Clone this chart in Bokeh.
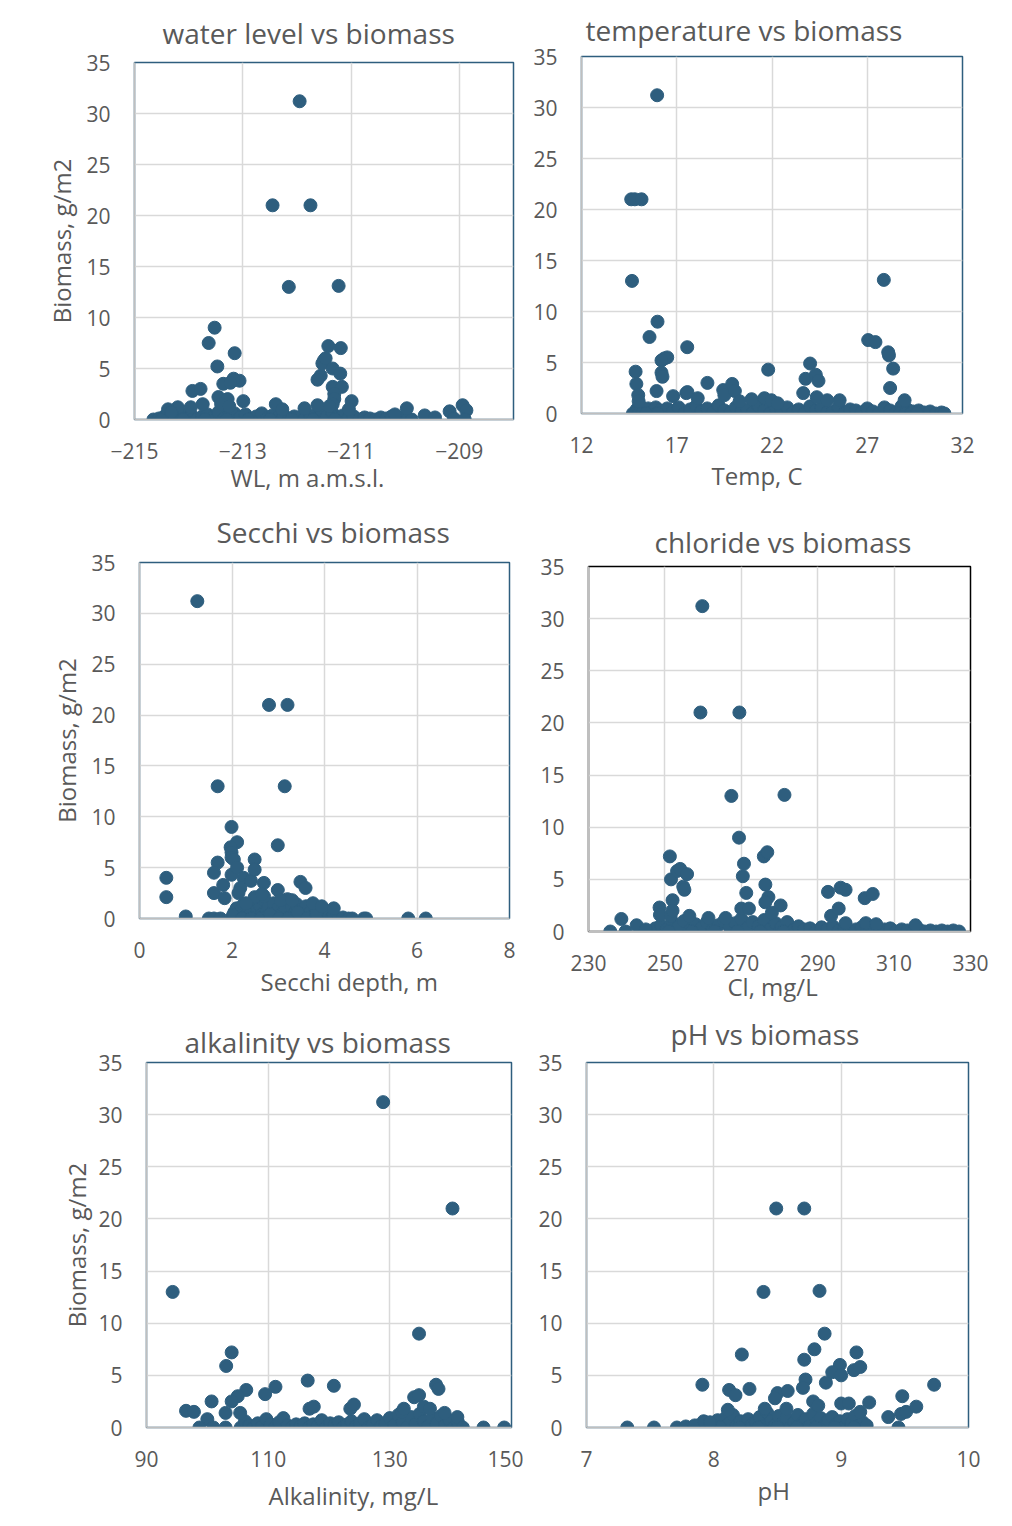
from bokeh.plotting import figure
from bokeh.layouts import column, row
from bokeh.models import Range1d, FixedTicker, Title, Spacer
from bokeh.embed import file_html
from bokeh.resources import INLINE

FONT = "Open Sans"
TEXT = "#595959"
DOT = "#2E5E7E"
GRID = "#D9D9D9"
AXIS = "#BFBFBF"

biomass_ticks = [0, 5, 10, 15, 20, 25, 30, 35]

# ---------------- data ----------------
wl_ticks = [-215, -213, -211, -209]
wl_points = [
    (-211.95, 31.2), (-212.45, 21.0), (-211.75, 21.0), (-212.15, 13.0), (-211.23, 13.1),
    (-213.52, 9.0), (-213.63, 7.5), (-213.15, 6.5), (-213.47, 5.2),
    (-211.42, 7.2), (-211.19, 7.0), (-211.50, 5.8), (-211.53, 5.5), (-211.47, 6.0),
    (-211.34, 5.0), (-211.20, 4.5), (-211.56, 4.3), (-211.62, 3.9),
    (-211.34, 3.2), (-211.17, 3.2), (-211.31, 2.5), (-211.31, 2.0), (-211.34, 1.5), (-211.40, 1.3),
    (-213.06, 3.8), (-213.17, 4.0), (-213.36, 3.5), (-213.23, 3.6),
    (-213.93, 2.8), (-213.78, 3.0),
    (-213.45, 2.2), (-213.28, 2.0), (-213.40, 1.5), (-213.25, 1.3),
    (-212.99, 1.8), (-213.74, 1.5),
    (-213.96, 1.2), (-214.20, 1.2), (-214.38, 1.0), (-214.32, 0.7),
    (-212.39, 1.5), (-212.27, 1.0), (-211.86, 1.1), (-211.62, 1.4),
    (-210.99, 1.8), (-211.04, 1.0),
    (-210.19, 0.5), (-209.97, 1.1), (-209.64, 0.4), (-209.45, 0.2),
    (-209.18, 0.8), (-209.10, 0.1), (-208.94, 1.4), (-208.87, 0.9), (-208.90, 0.0),
]
wl_base = [
    (-214.65, 0.0), (-214.55, 0.1), (-214.45, 0.3), (-214.35, 0.5), (-214.25, 0.2), (-214.15, 0.6),
    (-214.05, 0.1), (-213.95, 0.4), (-213.85, 0.0), (-213.75, 0.3), (-213.65, 0.5), (-213.55, 0.2),
    (-213.45, 0.7), (-213.35, 0.1), (-213.25, 0.4), (-213.15, 0.6), (-213.05, 0.2), (-212.95, 0.5),
    (-212.85, 0.0), (-212.75, 0.3), (-212.65, 0.6), (-212.55, 0.1), (-212.45, 0.4), (-212.35, 0.2),
    (-212.25, 0.5), (-212.15, 0.0), (-212.05, 0.3), (-211.95, 0.2), (-211.85, 0.1), (-211.75, 0.4),
    (-211.65, 0.0), (-211.55, 0.5), (-211.45, 0.3), (-211.35, 0.7), (-211.25, 0.2), (-211.15, 0.4),
    (-211.05, 0.1), (-210.95, 0.3), (-210.85, 0.0), (-210.75, 0.2), (-210.65, 0.1), (-210.55, 0.0),
    (-210.45, 0.2), (-210.35, 0.1), (-210.25, 0.3), (-210.15, 0.0), (-210.05, 0.2), (-209.95, 0.1),
    (-209.88, 0.0), (-214.50, 0.0), (-214.10, 0.0), (-213.70, 0.0), (-213.30, 0.0), (-212.90, 0.0),
    (-212.50, 0.0), (-212.10, 0.0), (-211.70, 0.0), (-211.30, 0.0),
]

temp_ticks = [12, 17, 22, 27, 32]
temp_points = [
    (15.97, 31.2), (14.61, 21.0), (14.80, 21.0), (15.15, 21.0), (14.65, 13.0), (27.87, 13.1),
    (15.99, 9.0), (15.57, 7.5), (17.55, 6.5), (16.50, 5.5), (16.35, 5.4), (16.20, 5.2),
    (16.20, 4.0), (16.25, 3.6), (14.84, 4.1), (14.88, 2.9), (15.94, 2.2), (14.98, 1.8), (15.00, 1.2),
    (16.81, 1.7), (17.50, 2.0), (17.56, 2.1), (18.10, 1.5), (18.61, 3.0), (19.44, 2.3), (19.50, 1.8),
    (19.91, 2.9), (20.05, 2.2), (20.30, 1.2), (20.93, 1.4),
    (21.80, 4.3), (21.60, 1.5), (21.97, 1.3), (22.30, 1.0),
    (23.64, 2.0), (23.76, 3.4), (24.00, 4.9), (24.30, 3.8), (24.44, 3.2), (24.35, 1.6), (24.90, 1.3),
    (25.55, 1.3),
    (27.05, 7.2), (27.43, 7.0), (28.10, 6.0), (28.14, 5.7), (28.36, 4.4), (28.20, 2.5), (28.96, 1.3),
]
temp_base = [
    (14.70, 0.0), (14.90, 0.4), (15.10, 0.7), (15.30, 0.2), (15.50, 0.5), (15.70, 0.0), (15.90, 0.6),
    (16.10, 0.3), (16.30, 0.1), (16.50, 0.5), (16.80, 0.2), (17.10, 0.6), (17.40, 0.0), (17.70, 0.4),
    (18.00, 0.7), (18.30, 0.2), (18.60, 0.5), (18.90, 0.1), (19.20, 0.8), (19.50, 0.3), (19.80, 0.0),
    (20.10, 0.6), (20.40, 0.2), (20.70, 0.4), (21.00, 0.1), (21.30, 0.7), (21.60, 0.3), (21.90, 0.0),
    (22.20, 0.5), (22.50, 0.2), (22.80, 0.6), (23.10, 0.1), (23.40, 0.4), (23.70, 0.0), (24.00, 0.7),
    (24.30, 0.3), (24.60, 0.5), (24.90, 0.1), (25.20, 0.2), (25.50, 0.6), (25.80, 0.0), (26.10, 0.4),
    (26.40, 0.3), (26.70, 0.1), (27.00, 0.5), (27.30, 0.2), (27.60, 0.0), (27.90, 0.6), (28.20, 0.3),
    (28.50, 0.1), (28.80, 0.7), (29.10, 0.4), (29.40, 0.2), (29.70, 0.3), (30.00, 0.1), (30.30, 0.2),
    (30.60, 0.0), (30.90, 0.1), (31.05, 0.0), (14.80, 0.0), (15.00, 0.0), (15.20, 0.0), (15.40, 0.0),
    (16.00, 0.0), (28.70, 0.0), (29.00, 0.0), (29.30, 0.0), (29.60, 0.0),
]

secchi_ticks = [0, 2, 4, 6, 8]
secchi_points = [
    (1.25, 31.2), (2.80, 21.0), (3.20, 21.0), (1.69, 13.0), (3.14, 13.0), (1.99, 9.0),
    (2.11, 7.5), (1.97, 7.0), (1.99, 6.5), (1.99, 6.0), (2.04, 5.8), (2.99, 7.2),
    (1.69, 5.5), (1.61, 4.5), (1.61, 2.5), (1.81, 3.3), (1.84, 2.0), (1.99, 4.3), (2.11, 5.0),
    (2.25, 4.0), (2.18, 3.0), (2.14, 2.5), (2.41, 3.7), (2.49, 5.8), (2.49, 4.8), (2.69, 3.5),
    (2.69, 2.2), (2.49, 2.1), (2.65, 2.4), (2.30, 1.5),
    (2.99, 2.8), (3.48, 3.6), (3.59, 3.0), (3.05, 1.8), (3.30, 1.8), (3.75, 1.5), (3.94, 1.2),
    (4.20, 1.0),
    (0.58, 4.0), (0.58, 2.1), (1.00, 0.2), (1.50, 0.0), (1.61, 0.0), (1.75, 0.0),
    (4.52, 0.0), (4.60, 0.0), (4.85, 0.0), (4.90, 0.0), (5.81, 0.0), (6.19, 0.0),
]
secchi_base = [
    (2.00, 0.0), (2.05, 0.6), (2.10, 1.0), (2.15, 0.2), (2.20, 0.8), (2.25, 1.4), (2.30, 0.3),
    (2.35, 1.1), (2.40, 0.5), (2.45, 1.6), (2.50, 0.1), (2.55, 0.9), (2.60, 1.3), (2.65, 0.4),
    (2.70, 1.8), (2.75, 0.7), (2.80, 1.2), (2.85, 0.0), (2.90, 1.5), (2.95, 0.6), (3.00, 1.0),
    (3.05, 0.3), (3.10, 1.3), (3.15, 0.8), (3.20, 1.9), (3.25, 0.2), (3.30, 1.1), (3.35, 0.5),
    (3.40, 1.4), (3.45, 0.0), (3.50, 0.9), (3.55, 0.4), (3.60, 1.2), (3.65, 0.1), (3.70, 0.7),
    (3.75, 0.3), (3.80, 1.0), (3.85, 0.0), (3.90, 0.6), (3.95, 0.2), (4.00, 0.8), (4.05, 0.1),
    (4.10, 0.4), (4.15, 0.0), (4.20, 0.3), (4.30, 0.0), (4.40, 0.1), (2.02, 0.3), (2.22, 0.0),
    (2.42, 0.0), (2.62, 0.0), (2.82, 0.4), (3.02, 0.0), (3.22, 0.0), (3.42, 0.6), (3.62, 0.0),
    (3.82, 0.5),
]

cl_ticks = [230, 250, 270, 290, 310, 330]
cl_points = [
    (259.8, 31.2), (259.3, 21.0), (269.5, 21.0), (267.4, 13.0), (281.3, 13.1), (269.4, 9.0),
    (251.3, 7.2), (270.7, 6.5), (270.4, 5.3), (271.3, 3.7), (251.6, 5.0), (253.2, 5.8),
    (254.0, 6.0), (255.8, 5.5), (254.8, 4.3), (255.1, 4.0), (252.0, 3.0),
    (248.6, 2.3), (248.7, 1.6), (251.5, 1.5), (252.0, 2.0), (256.4, 1.5),
    (238.6, 1.2), (239.7, 0.0), (235.7, 0.0), (242.6, 0.6), (245.0, 0.2),
    (275.9, 7.2), (276.8, 7.6), (276.3, 4.5), (277.1, 3.3), (276.3, 2.8), (280.3, 2.5), (278.0, 1.8),
    (261.4, 1.3), (265.9, 1.3), (270.0, 2.2), (272.0, 2.2),
    (292.7, 3.8), (293.5, 1.5), (295.5, 2.2), (296.0, 4.2), (297.3, 4.0), (302.3, 3.2), (304.4, 3.6),
    (297.3, 0.8), (302.6, 0.8), (305.3, 0.7), (315.6, 0.6),
]
cl_base = [
    (246.0, 0.0), (247.5, 0.3), (249.0, 0.6), (250.5, 0.2), (252.0, 0.9), (253.5, 0.4), (255.0, 1.0),
    (256.5, 0.1), (258.0, 0.7), (259.5, 0.3), (261.0, 0.9), (262.5, 0.2), (264.0, 0.6), (265.5, 1.0),
    (267.0, 0.4), (268.5, 0.8), (270.0, 1.2), (271.5, 0.3), (273.0, 0.9), (274.5, 0.5), (276.0, 1.1),
    (277.5, 0.2), (279.0, 0.8), (280.5, 0.4), (282.0, 0.9), (283.5, 0.1), (285.0, 0.5), (286.5, 0.2),
    (288.0, 0.3), (289.5, 0.0), (291.0, 0.4), (292.5, 0.2), (294.0, 0.5), (295.5, 0.1), (297.0, 0.3),
    (298.5, 0.0), (300.0, 0.2), (301.5, 0.4), (303.0, 0.1), (304.5, 0.3), (306.0, 0.0), (307.5, 0.2),
    (309.0, 0.3), (310.5, 0.0), (312.0, 0.2), (313.5, 0.1), (315.0, 0.0), (316.5, 0.2), (318.0, 0.0),
    (319.5, 0.1), (321.0, 0.0), (322.5, 0.1), (324.0, 0.0), (325.5, 0.1), (327.0, 0.0), (251.0, 0.0),
    (257.0, 0.0), (263.0, 0.0), (269.0, 0.0), (275.0, 0.0), (281.0, 0.0),
]

alk_ticks = [90, 110, 130, 150]
alk_points = [
    (128.9, 31.2), (140.3, 21.0), (94.3, 13.0), (134.8, 9.0), (104.0, 7.2), (103.1, 5.9),
    (116.5, 4.5), (111.2, 3.9), (120.8, 4.0), (109.5, 3.2), (106.4, 3.6), (105.0, 3.0),
    (104.0, 2.5), (105.4, 1.4), (103.0, 1.4),
    (100.7, 2.5), (96.5, 1.6), (97.8, 1.5), (100.0, 0.8), (98.7, 0.0), (101.0, 0.0), (103.0, 0.0),
    (116.8, 1.8), (117.5, 2.0), (123.5, 1.8), (124.1, 2.2), (132.0, 1.5), (132.3, 1.8),
    (134.0, 2.9), (134.8, 3.1), (137.6, 4.1), (138.0, 3.7), (135.6, 2.0), (136.6, 1.8),
    (139.0, 1.4), (141.1, 1.0), (142.0, 0.0), (145.4, 0.0), (148.8, 0.0),
]
alk_base = [
    (105.5, 0.0), (106.2, 0.6), (106.9, 0.2), (107.6, 0.0), (108.3, 0.4), (109.0, 0.1), (109.7, 0.8),
    (110.4, 0.3), (111.1, 0.0), (111.8, 0.5), (112.5, 0.9), (113.2, 0.2), (113.9, 0.0), (114.6, 0.3),
    (115.3, 0.1), (116.0, 0.4), (116.7, 0.0), (117.4, 0.3), (118.1, 0.1), (118.8, 0.7), (119.5, 0.0),
    (120.2, 0.4), (120.9, 0.2), (121.6, 0.5), (122.3, 0.0), (123.0, 0.3), (123.7, 0.6), (124.4, 0.1),
    (125.1, 0.4), (125.8, 0.8), (126.5, 0.0), (127.2, 0.3), (127.9, 0.7), (128.6, 0.1), (129.3, 0.4),
    (130.0, 0.9), (130.7, 0.2), (131.4, 1.2), (132.1, 0.5), (132.8, 0.0), (133.5, 1.0), (134.2, 0.3),
    (134.9, 1.3), (135.6, 0.6), (136.3, 0.1), (137.0, 0.9), (137.7, 0.4), (138.4, 1.1), (139.1, 0.2),
    (139.8, 0.7), (140.5, 0.0), (141.2, 0.5),
]

ph_ticks = [7, 8, 9, 10]
ph_points = [
    (8.49, 21.0), (8.71, 21.0), (8.39, 13.0), (8.83, 13.1), (8.87, 9.0), (8.79, 7.5), (8.71, 6.5),
    (8.22, 7.0), (8.72, 4.6), (8.70, 3.8), (8.88, 4.3), (8.99, 6.0), (8.93, 5.3), (9.00, 5.0),
    (9.12, 7.2), (9.10, 5.5), (9.15, 5.8),
    (7.91, 4.1), (8.12, 3.6), (8.17, 3.1), (8.28, 3.7), (8.50, 3.3), (8.48, 2.8), (8.58, 3.5),
    (8.78, 2.5), (8.82, 2.1), (9.00, 2.3), (9.06, 2.3), (9.22, 2.4), (9.15, 1.5), (8.40, 1.8),
    (8.57, 1.8), (8.11, 1.7),
    (9.37, 1.0), (9.48, 3.0), (9.47, 1.3), (9.51, 1.5), (9.59, 2.0), (9.45, 0.0), (9.73, 4.1),
    (7.32, 0.0), (7.53, 0.0), (7.71, 0.0), (7.78, 0.1), (7.85, 0.2), (7.93, 0.5), (7.97, 0.5),
]
ph_base = [
    (7.88, 0.2), (7.92, 0.6), (7.96, 0.0), (8.00, 0.3), (8.03, 0.7), (8.06, 0.1), (8.09, 0.9),
    (8.12, 0.4), (8.15, 1.2), (8.18, 0.2), (8.21, 0.6), (8.24, 0.0), (8.27, 0.8), (8.30, 0.3),
    (8.33, 0.5), (8.36, 1.0), (8.39, 0.1), (8.42, 1.4), (8.45, 0.6), (8.48, 0.2), (8.51, 1.1),
    (8.54, 0.4), (8.57, 0.9), (8.60, 0.0), (8.63, 0.5), (8.66, 1.2), (8.69, 0.3), (8.72, 0.8),
    (8.75, 0.1), (8.78, 1.3), (8.81, 0.5), (8.84, 0.9), (8.87, 0.2), (8.90, 0.7), (8.93, 1.0),
    (8.96, 0.3), (8.99, 0.6), (9.02, 0.0), (9.05, 0.8), (9.08, 0.4), (9.11, 1.1), (9.14, 0.2),
    (9.17, 0.5), (9.20, 0.2), (8.05, 0.0), (8.20, 0.0), (8.35, 0.0), (8.50, 0.0), (8.65, 0.0),
    (8.80, 0.0), (8.95, 0.0), (9.10, 0.0),
]


def panel(title, xlabel, ylabel, xr, xticks, pts, base, frame_w, frame_h,
          left, right, top, bottom,
          title_offset, title_standoff, xlab_offset, xlab_standoff, ylab_standoff=2,
          border="#2E5E7E"):
    p = figure(frame_width=frame_w, frame_height=frame_h,
               x_range=Range1d(*xr), y_range=Range1d(0, 35),
               output_backend="svg", toolbar_location=None,
               min_border_left=left, min_border_right=right,
               min_border_top=top, min_border_bottom=bottom,
               background_fill_color="white", border_fill_color="white")

    p.title.text = title
    p.title.align = "left"
    p.title.offset = title_offset
    p.title.standoff = title_standoff
    p.title.text_font = FONT
    p.title.text_font_size = "28px"
    p.title.text_font_style = "normal"
    p.title.text_color = TEXT

    p.outline_line_color = border
    p.outline_line_width = 1.5

    p.xaxis.ticker = FixedTicker(ticks=xticks)
    p.yaxis.ticker = FixedTicker(ticks=biomass_ticks)
    for ax in (p.xaxis, p.yaxis):
        ax.axis_line_color = AXIS
        ax.axis_line_width = 1.5
        ax.major_tick_line_color = None
        ax.minor_tick_line_color = None
        ax.major_label_text_font = FONT
        ax.major_label_text_font_size = "21px"
        ax.major_label_text_color = TEXT
        ax.axis_label_text_font = FONT
        ax.axis_label_text_font_size = "24px"
        ax.axis_label_text_font_style = "normal"
        ax.axis_label_text_color = TEXT
    p.xaxis.major_label_standoff = 17
    p.yaxis.major_label_standoff = 18
    if ylabel:
        p.yaxis.axis_label = ylabel
        p.yaxis.axis_label_standoff = ylab_standoff

    p.add_layout(Title(text=xlabel, align="left", offset=xlab_offset, standoff=xlab_standoff,
                       text_font=FONT, text_font_size="24px", text_font_style="normal",
                       text_color=TEXT), "below")

    p.xgrid.grid_line_color = GRID
    p.ygrid.grid_line_color = GRID
    p.xgrid.grid_line_width = 1.5
    p.ygrid.grid_line_width = 1.5

    all_pts = base + pts
    xs = [a for a, b in all_pts]
    ys = [b for a, b in all_pts]
    p.scatter(xs, ys, size=13, fill_color=DOT, line_color=DOT)
    return p


YL = "Biomass, g/m2"

# left column
p1 = panel("water level vs biomass", "WL, m a.m.s.l.", YL, (-215, -208), wl_ticks,
           wl_points, wl_base, 379, 357, 134, 10, 62, 77,
           28, 21, 96, -5, 5)
p3 = panel("Secchi vs biomass", "Secchi depth, m", YL, (0, 8), secchi_ticks,
           secchi_points, secchi_base, 370, 356, 139, 14, 66, 88,
           77, 23, 121, 5, 5)
p5 = panel("alkalinity vs biomass", "Alkalinity, mg/L", YL, (90, 150), alk_ticks,
           alk_points, alk_base, 365, 365, 146, 12, 56, 97,
           38, 4, 122, 14, 2)
# right column
p2 = panel("temperature vs biomass", "Temp, C", None, (12, 32), temp_ticks,
           temp_points, temp_base, 381, 357, 58, 48, 56, 86,
           4, 16, 130, 3)
p4 = panel("chloride vs biomass", "Cl, mg/L", None, (230, 330), cl_ticks,
           cl_points, cl_base, 382, 365, 65, 40, 67, 71,
           66, 12, 139, -11, border="black")
p6 = panel("pH vs biomass", "pH", None, (7, 10), ph_ticks,
           ph_points, ph_base, 382, 365, 63, 42, 60, 86,
           84, 19, 171, 4)


def wrap(p):
    return row(Spacer(width=0), p)


layout = row(
    column(wrap(p1), wrap(p3), wrap(p5)),
    column(wrap(p2), wrap(p4), wrap(p6)),
)

with open("out.html", "w") as f:
    f.write(file_html(layout, INLINE))
